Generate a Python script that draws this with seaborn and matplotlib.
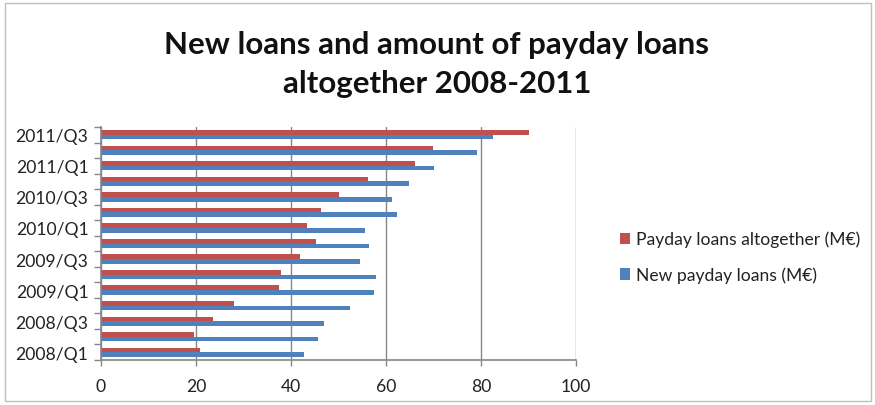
import matplotlib
matplotlib.use("Agg")
import matplotlib.pyplot as plt
import seaborn as sns
import pandas as pd
import numpy as np
from matplotlib.patches import Rectangle

# Quarters listed from newest (top) to oldest (bottom)
quarters = ["2011/Q3", "2011/Q2", "2011/Q1", "2010/Q4", "2010/Q3", "2010/Q2",
            "2010/Q1", "2009/Q4", "2009/Q3", "2009/Q2", "2009/Q1", "2008/Q4",
            "2008/Q3", "2008/Q2", "2008/Q1"]
total_loans = [90.2, 69.8, 66.2, 56.2, 50.2, 46.4, 43.4, 45.2, 41.8, 37.8,
               37.5, 28.0, 23.6, 19.6, 20.8]
new_loans = [82.6, 79.1, 70.0, 64.8, 61.2, 62.4, 55.6, 56.5, 54.6, 57.8,
             57.4, 52.4, 46.9, 45.7, 42.7]
series_names = ["Payday loans altogether (M€)", "New payday loans (M€)"]
x_ticks = [0, 20, 40, 60, 80, 100]

df = pd.DataFrame({
    "quarter": quarters * 2,
    "value": total_loans + new_loans,
    "series": [series_names[0]] * len(quarters) + [series_names[1]] * len(quarters),
})

sns.set_theme(style="white")
plt.rcParams["font.family"] = ["Lato", "DejaVu Sans"]

fig = plt.figure(figsize=(8.75, 4.06), dpi=100)
ax = fig.add_axes([101 / 875, 45 / 406, 475 / 875, 233 / 406])

palette = {series_names[0]: "#C0504D", series_names[1]: "#4F81BD"}
sns.barplot(data=df, y="quarter", x="value", hue="series", order=quarters,
            hue_order=series_names, palette=palette, orient="h",
            width=0.6, gap=0, saturation=1, linewidth=0, ax=ax, legend=True)

ax.set_xlim(0, 100)
ax.set_ylim(len(quarters) - 0.5, -0.5)
ax.set_xticks(x_ticks)
ax.set_xticklabels([str(t) for t in x_ticks], fontsize=12.6, color="#222222")
ax.xaxis.grid(True, color="#868686", linewidth=1)
ax.set_axisbelow(True)

# Labels on every other quarter, tick marks on the category boundaries
label_pos = list(range(0, len(quarters), 2))
ax.set_yticks(label_pos)
ax.set_yticklabels([quarters[i] for i in label_pos], fontsize=12.6, color="#222222")
ax.set_yticks(np.arange(-0.5, len(quarters), 1), minor=True)
ax.tick_params(axis="y", which="major", length=0, pad=9)
ax.tick_params(axis="y", which="minor", length=5, width=1, color="#868686", left=True)
ax.tick_params(axis="x", which="major", length=4, width=1, color="#868686",
               bottom=True, pad=9)

ax.set_xlabel("")
ax.set_ylabel("")
for side in ["top", "right"]:
    ax.spines[side].set_visible(False)
for side in ["left", "bottom"]:
    ax.spines[side].set_color("#868686")
    ax.spines[side].set_linewidth(1.2)

leg = ax.legend(loc="center left", bbox_to_anchor=(604 / 875, 1 - 258 / 406),
                bbox_transform=fig.transFigure, frameon=False, fontsize=12.6,
                handlelength=0.6, handleheight=0.6, handletextpad=0.3,
                labelspacing=1.1)
for t in leg.get_texts():
    t.set_color("#222222")

fig.text(437 / 875, 1 - 45 / 406, "New loans and amount of payday loans",
         ha="center", va="center", fontsize=22.5, fontweight="bold", color="#111111")
fig.text(437 / 875, 1 - 84 / 406, "altogether 2008-2011",
         ha="center", va="center", fontsize=22.5, fontweight="bold", color="#111111")

fig.patches.append(Rectangle((5 / 875, 4 / 406), 866 / 875, 398 / 406,
                             transform=fig.transFigure, fill=False,
                             edgecolor="#BFBFBF", linewidth=1))

fig.savefig("out.png", dpi=100)
